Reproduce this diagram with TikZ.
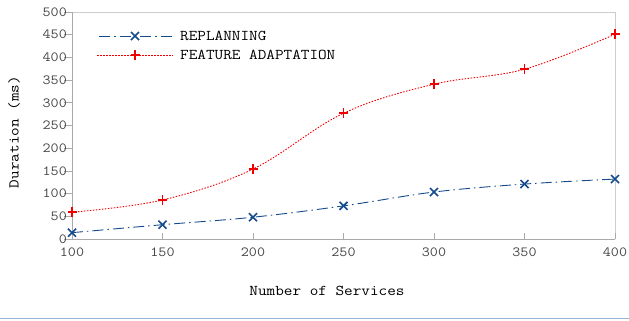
\documentclass[tikz,border=0pt]{standalone}
\usepackage{fontspec}
\setmainfont[FakeStretch=1.12]{Latin Modern Mono}
\definecolor{repblue}{RGB}{20,75,140}
\definecolor{featred}{RGB}{240,0,0}
\definecolor{axisgray}{RGB}{170,170,170}
\definecolor{framegray}{RGB}{205,205,205}
\definecolor{ticktext}{RGB}{70,70,70}
\definecolor{sepblue}{RGB}{150,180,215}
\tikzset{
  ticklab/.style={font=\fontsize{14}{16}\selectfont, text=ticktext, inner sep=0pt},
  axlab/.style={font=\fontsize{15}{17}\selectfont, text=black, inner sep=0pt},
  replan/.style={repblue, line width=0.9pt, dash pattern=on 11bp off 4bp on 1.5bp off 4bp},
  feat/.style={featred, line width=0.9pt, dash pattern=on 1.5bp off 1.5bp},
  repmark/.style={repblue, line width=1.6pt},
  featmark/.style={featred, line width=1.8pt},
}
\begin{document}
\begin{tikzpicture}[x=1bp,y=1bp]
\useasboundingbox (0,0) rectangle (629,-320);
% frame
\draw[framegray, line width=1pt] (72,-12) -- (615,-12) -- (615,-239);
\draw[axisgray, line width=1pt] (72,-12) -- (72,-239) -- (615,-239);
% y ticks and labels
\foreach \v in {0,50,...,500}{
  \pgfmathsetmacro{\yy}{-239+0.454*\v}
  \draw[axisgray, line width=0.8pt] (64,\yy) -- (72,\yy);
  \node[ticklab, anchor=east] (yl\v) at (67,\yy) {\v};
}
% x ticks and labels
\foreach \s in {100,150,...,400}{
  \pgfmathsetmacro{\xx}{72+1.81*(\s-100)}
  \draw[axisgray, line width=0.8pt] (\xx,-239) -- (\xx,-233);
  \node[ticklab, anchor=north] (xl\s) at (\xx,-248) {\s};
}
\node[axlab] (xlabel) at (327,-291) {Number of Services};
\node[axlab, rotate=90] (ylabel) at (14,-132) {Duration (ms)};
% data
\begin{scope}[shift={(72,-239)}, x=1.81bp, y=0.454bp]
  \draw[feat] plot[smooth, tension=0.6] coordinates {(0,59) (50,86) (100,154) (150,277) (200,341) (250,374) (300,451)};
  \draw[replan] plot[smooth, tension=0.6] coordinates {(0,14) (50,31.5) (100,48) (150,73) (200,103.5) (250,121) (300,132)};
  \foreach \a/\b in {0/59,50/86,100/154,150/277,200/341,250/374,300/451}{
    \draw[featmark] ([xshift=-4.5bp]\a,\b) -- ([xshift=4.5bp]\a,\b);
    \draw[featmark] ([yshift=-5bp]\a,\b) -- ([yshift=5bp]\a,\b);
  }
  \foreach \a/\b in {0/14,50/31.5,100/48,150/73,200/103.5,250/121,300/132}{
    \draw[repmark] ([shift={(-4bp,-4bp)}]\a,\b) -- ([shift={(4bp,4bp)}]\a,\b);
    \draw[repmark] ([shift={(-4bp,4bp)}]\a,\b) -- ([shift={(4bp,-4bp)}]\a,\b);
  }
\end{scope}
% legend
\coordinate (l1a) at (97,-36);
\coordinate (l1b) at (173,-36);
\coordinate (l1m) at (135,-36);
\draw[replan, dash phase=-2bp] (l1a) -- (l1b);
\draw[repmark] ([shift={(-4bp,-4bp)}]l1m) -- ([shift={(4bp,4bp)}]l1m);
\draw[repmark] ([shift={(-4bp,4bp)}]l1m) -- ([shift={(4bp,-4bp)}]l1m);
\node[axlab, anchor=west] (leg1) at (180,-36) {REPLANNING};
\coordinate (l2a) at (97,-55);
\coordinate (l2b) at (173,-55);
\coordinate (l2m) at (135,-55);
\draw[feat] (l2a) -- (l2b);
\draw[featmark] ([xshift=-4.5bp]l2m) -- ([xshift=4.5bp]l2m);
\draw[featmark] ([yshift=-5bp]l2m) -- ([yshift=5bp]l2m);
\node[axlab, anchor=west] (leg2) at (180,-55) {FEATURE ADAPTATION};
% bottom separator
\draw[sepblue, line width=1pt] (0,-318) -- (629,-318);
\end{tikzpicture}
\end{document}
